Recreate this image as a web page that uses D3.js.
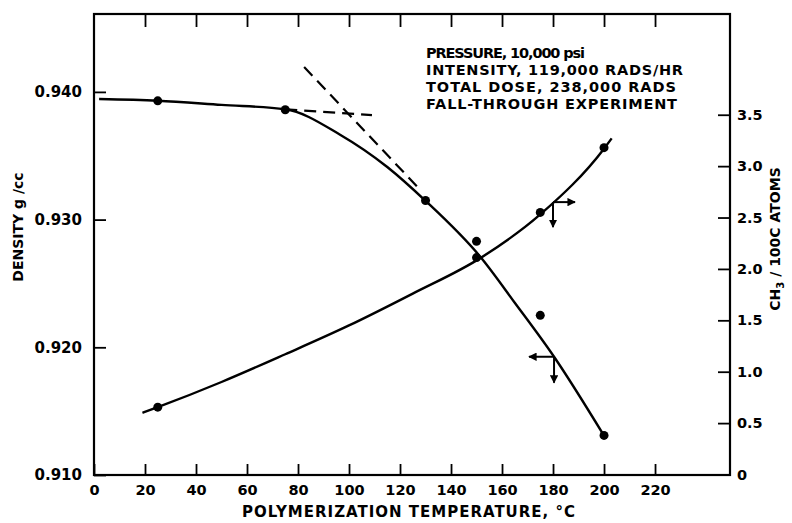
<html>
  <head>
  <meta charset="UTF-8">
  <script src="https://cdn.jsdelivr.net/npm/d3@7"></script>
  <style>
    body {
      margin: 0;
      background: #FFF;
    }
    text {
      font-family: "DejaVu Sans", sans-serif;
      font-weight: bold;
      fill: black;
    }
    .curve {
      fill: none;
      stroke: black;
      stroke-width: 2.4;
    }
    .dashed {
      fill: none;
      stroke: black;
      stroke-width: 2.2;
      stroke-dasharray: 12 7;
    }
  </style>
  </head>
  <body>
    <script>

      // Measured density points (left axis)
      let densityTemps = [25, 75, 130, 150, 175, 200];
      let densityValues = [0.9393, 0.9386, 0.9315, 0.9283, 0.9225, 0.9131];

      // Drawn density curve
      let densityCurveTemps = [2, 25, 50, 75, 96.5, 115, 130, 151.8, 165, 180.4, 200];
      let densityCurveValues = [0.93944, 0.93931, 0.93898, 0.93864, 0.93665, 0.93412, 0.93147, 0.92701, 0.92349, 0.91926, 0.91308];

      // Measured CH3 points (right axis)
      let ch3Temps = [25, 150, 175, 200];
      let ch3Values = [0.655, 2.11, 2.55, 3.18];

      // Drawn CH3 curve
      let ch3CurveTemps = [19, 25, 50, 75, 100, 125, 151.8, 175, 200, 203];
      let ch3CurveValues = [0.60, 0.655, 0.90, 1.17, 1.45, 1.76, 2.11, 2.53, 3.17, 3.27];

      // Dashed tangent lines
      let flatTangentTemps = [75, 109];
      let flatTangentValues = [0.93864, 0.93818];
      let steepTangentTemps = [82.4, 127];
      let steepTangentValues = [0.94195, 0.93253];

      // Axis ticks
      let xTicks = [0, 20, 40, 60, 80, 100, 120, 140, 160, 180, 200, 220];
      let leftTicks = [0.910, 0.920, 0.930, 0.940];
      let rightTicks = [0, 0.5, 1.0, 1.5, 2.0, 2.5, 3.0, 3.5];

      // Arrow markers: which axis each curve belongs to
      let ch3ArrowAt = [180, 2.65];
      let densityArrowAt = [180.4, 0.91926];

      let notes = ["PRESSURE, 10,000 psi", "INTENSITY, 119,000 RADS/HR",
        "TOTAL DOSE, 238,000 RADS", "FALL-THROUGH EXPERIMENT"];
      let noteWidths = [159, 257, 250, 251];

      var width = 792, height = 523;
      var plotLeft = 94, plotRight = 730, plotTop = 14, plotBottom = 475;

      var x = d3.scaleLinear().domain([0, 249.4]).range([plotLeft, plotRight]);
      var yL = d3.scaleLinear().domain([0.910, 0.9461]).range([plotBottom, plotTop]);
      var yR = d3.scaleLinear().domain([0, 4.48]).range([plotBottom - 0.5, plotTop]);

      var svg = d3.select("body")
        .append("svg")
          .attr("width", width)
          .attr("height", height);

      svg.append("defs").append("marker")
          .attr("id", "head")
          .attr("viewBox", "0 0 10 10")
          .attr("refX", 9)
          .attr("refY", 5)
          .attr("markerWidth", 4.2)
          .attr("markerHeight", 4.2)
          .attr("orient", "auto")
        .append("path")
          .attr("d", "M0,0 L10,5 L0,10 z")
          .attr("fill", "black");

      // Frame

      svg.append("rect")
        .attr("x", plotLeft)
        .attr("y", plotTop)
        .attr("width", plotRight - plotLeft)
        .attr("height", plotBottom - plotTop)
        .attr("fill", "none")
        .attr("stroke", "black")
        .attr("stroke-width", 2.2);

      // Bottom and top axes, ticks pointing inward

      var xAxis = d3.axisBottom(x).tickValues(xTicks).tickSize(-11).tickPadding(10);
      var gx = svg.append("g")
        .attr("transform", "translate(0," + plotBottom + ")")
        .call(xAxis);
      gx.select(".domain").remove();
      gx.selectAll("line").attr("stroke-width", 1.8);
      gx.selectAll("text").style("font-size", "14.5px");

      var gxTop = svg.append("g")
        .attr("transform", "translate(0," + plotTop + ")")
        .call(d3.axisTop(x).tickValues(xTicks.slice(1)).tickSize(-13).tickFormat(""));
      gxTop.select(".domain").remove();
      gxTop.selectAll("line").attr("stroke-width", 1.8);

      // Left axis (density)

      var gyL = svg.append("g")
        .attr("transform", "translate(" + plotLeft + ",0)")
        .call(d3.axisLeft(yL).tickValues(leftTicks).tickSize(-12).tickPadding(12).tickFormat(d3.format(".3f")));
      gyL.select(".domain").remove();
      gyL.selectAll("line").attr("stroke-width", 1.8);
      gyL.selectAll("text").style("font-size", "15px");

      // Right axis (CH3)

      var gyR = svg.append("g")
        .attr("transform", "translate(" + plotRight + ",0)")
        .call(d3.axisRight(yR).tickValues(rightTicks).tickSize(-12).tickPadding(7)
          .tickFormat(function(d) { return d === 0 ? "0" : d3.format(".1f")(d); }));
      gyR.select(".domain").remove();
      gyR.selectAll("line").attr("stroke-width", 1.8);
      gyR.selectAll("text").style("font-size", "14.5px");

      // Axis titles

      svg.append("text")
        .attr("x", 242)
        .attr("y", 517)
        .attr("textLength", 333)
        .attr("lengthAdjust", "spacing")
        .style("font-size", "15px")
        .text("POLYMERIZATION TEMPERATURE, °C");

      svg.append("text")
        .attr("transform", "translate(23,227) rotate(-90)")
        .attr("text-anchor", "middle")
        .style("font-size", "14px")
        .text("DENSITY g /cc");

      var rt = svg.append("text")
        .attr("transform", "translate(780,239) rotate(-90)")
        .attr("text-anchor", "middle")
        .style("font-size", "14px");
      rt.append("tspan").text("CH");
      rt.append("tspan").attr("dy", 4).style("font-size", "10px").text("3");
      rt.append("tspan").attr("dy", -4).text(" / 100C  ATOMS");

      // Curves

      var densityLine = d3.line()
        .x(function(d) { return x(d[0]); })
        .y(function(d) { return yL(d[1]); })
        .curve(d3.curveMonotoneX);

      var ch3Line = d3.line()
        .x(function(d) { return x(d[0]); })
        .y(function(d) { return yR(d[1]); })
        .curve(d3.curveMonotoneX);

      svg.append("path")
        .attr("class", "curve")
        .attr("d", densityLine(d3.zip(densityCurveTemps, densityCurveValues)));

      svg.append("path")
        .attr("class", "curve")
        .attr("d", ch3Line(d3.zip(ch3CurveTemps, ch3CurveValues)));

      var straight = d3.line()
        .x(function(d) { return x(d[0]); })
        .y(function(d) { return yL(d[1]); });

      svg.append("path")
        .attr("class", "dashed")
        .attr("d", straight(d3.zip(flatTangentTemps, flatTangentValues)));

      svg.append("path")
        .attr("class", "dashed")
        .attr("d", straight(d3.zip(steepTangentTemps, steepTangentValues)));

      // Dots

      svg.selectAll(".ddot")
          .data(d3.zip(densityTemps, densityValues))
        .enter().append("circle")
          .attr("r", 4.5)
          .attr("cx", function(d) { return x(d[0]); })
          .attr("cy", function(d) { return yL(d[1]); });

      svg.selectAll(".cdot")
          .data(d3.zip(ch3Temps, ch3Values))
        .enter().append("circle")
          .attr("r", 4.5)
          .attr("cx", function(d) { return x(d[0]); })
          .attr("cy", function(d) { return yR(d[1]); });

      // Axis arrows

      function arrow(px, py, dx, dy) {
        svg.append("line")
          .attr("x1", px).attr("y1", py)
          .attr("x2", px + dx).attr("y2", py + dy)
          .attr("stroke", "black")
          .attr("stroke-width", 2)
          .attr("marker-end", "url(#head)");
      }

      var cx = x(ch3ArrowAt[0]), cy = yR(ch3ArrowAt[1]);
      arrow(cx, cy, 22, 0);
      arrow(cx, cy, 0, 25);

      var dx = x(densityArrowAt[0]), dy = yL(densityArrowAt[1]);
      arrow(dx, dy, -25, 0);
      arrow(dx, dy, 0, 26);

      // Conditions note

      svg.selectAll(".note")
          .data(notes)
        .enter().append("text")
          .attr("x", 426)
          .attr("y", function(d, i) { return 57.5 + i * 17.3; })
          .attr("textLength", function(d, i) { return noteWidths[i]; })
          .attr("lengthAdjust", "spacing")
          .style("font-size", "14.5px")
          .text(function(d) { return d; });

    </script>
  </body>
</html>
